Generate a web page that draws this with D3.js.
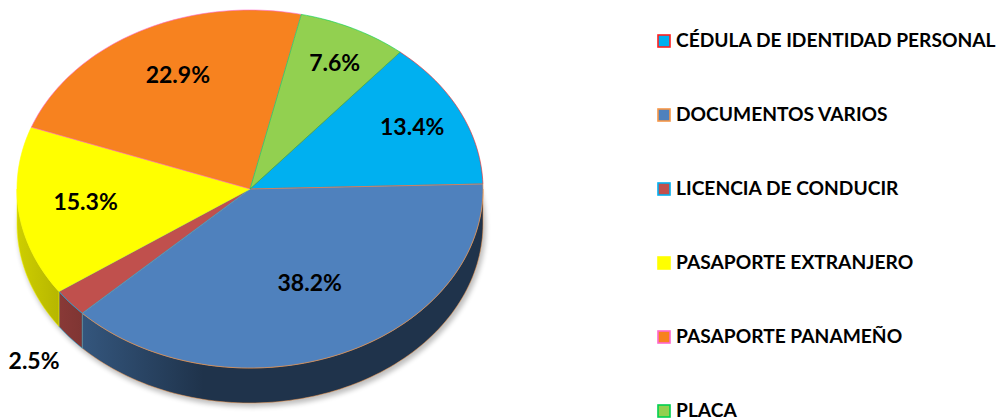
<!DOCTYPE html>
<html>
<head>
<meta charset="utf-8">
<script src="https://cdn.jsdelivr.net/npm/d3@7"></script>
<style>
  body { margin: 0; background: #fff; }
  text { font-family: Lato, "Open Sans", sans-serif; font-weight: bold; fill: #000; }
</style>
</head>
<body>
<div id="chart"></div>
<script>
// data (order as in the legend)
const categories = ['CÉDULA DE IDENTIDAD PERSONAL', 'DOCUMENTOS VARIOS', 'LICENCIA DE CONDUCIR',
  'PASAPORTE EXTRANJERO', 'PASAPORTE PANAMEÑO', 'PLACA'];
const values = [13.4, 38.2, 2.5, 15.3, 22.9, 7.6];
const sliceColours = ['#00b0f0', '#4f81bd', '#c0504d', '#ffff00', '#f7821f', '#92d050'];
const borderColours = ['#ff2020', '#f79646', '#00b0f0', '#ffff00', '#ff66cc', '#00d050'];

const width = 1007, height = 420;
const cx = 250, cy = 189, rx = 233, ry = 179, depth = 35;

const svg = d3.select('#chart').append('svg')
  .attr('width', width)
  .attr('height', height);

const defs = svg.append('defs');
const blur = defs.append('filter').attr('id', 'shadow')
  .attr('x', '-10%').attr('y', '-10%').attr('width', '120%').attr('height', '120%');
blur.append('feGaussianBlur').attr('stdDeviation', 2.5);

const data = categories.map((c, i) => ({ name: c, value: values[i], i }));

const pie = d3.pie().sort(null).value(d => d.value)
  .startAngle(0.70).endAngle(0.70 + 2 * Math.PI);
const arcs = pie(data);

// project a d3 angle (0 = 12 o'clock, clockwise) on to the ellipse
const px = (a, r = 1) => cx + rx * r * Math.sin(a);
const py = (a, r = 1) => cy - ry * r * Math.cos(a);

function rim(a0, a1, dy = 0) {
  const n = Math.max(2, Math.ceil(Math.abs(a1 - a0) * 40));
  return d3.range(n + 1).map(k => {
    const a = a0 + (a1 - a0) * k / n;
    return [px(a), py(a) + dy];
  });
}

const chart = svg.append('g');

// soft shadow under the pie
chart.append('ellipse')
  .attr('cx', cx + 2).attr('cy', cy + depth + 3)
  .attr('rx', rx + 1).attr('ry', ry + 1)
  .attr('fill', '#000').attr('opacity', 0.25)
  .attr('filter', 'url(#shadow)');

// outer walls, only the front half is visible
const front = [[Math.PI / 2, 1.5 * Math.PI], [2.5 * Math.PI, 3.5 * Math.PI]];
const walls = [];
arcs.forEach(d => {
  front.forEach(([f0, f1]) => {
    const a0 = Math.max(d.startAngle, f0), a1 = Math.min(d.endAngle, f1);
    if (a1 > a0) walls.push({ d, a0, a1 });
  });
});

walls.forEach((w, k) => {
  const base = d3.color(sliceColours[w.d.index]);
  const gid = 'wall' + k;
  const g = defs.append('linearGradient').attr('id', gid)
    .attr('gradientUnits', 'userSpaceOnUse')
    .attr('x1', cx - rx).attr('x2', cx + rx).attr('y1', 0).attr('y2', 0);
  [[0, 0.6], [14, 1.15], [40, 2.6], [100, 2.6]].forEach(([o, k2]) => {
    g.append('stop').attr('offset', o + '%').attr('stop-color', base.darker(k2));
  });
  const pts = rim(w.a0, w.a1).concat(rim(w.a1, w.a0, depth));
  chart.append('path')
    .attr('d', d3.line()(pts) + 'Z')
    .attr('fill', `url(#${gid})`)
    .attr('stroke', borderColours[w.d.index])
    .attr('stroke-width', 0.5);
});

// top face
chart.selectAll('.slice')
  .data(arcs)
  .join('path')
  .attr('class', 'slice')
  .attr('d', d => d3.line()([[cx, cy]].concat(rim(d.startAngle, d.endAngle))) + 'Z')
  .attr('fill', d => sliceColours[d.index])
  .attr('stroke', d => borderColours[d.index])
  .attr('stroke-width', 0.6);

// labels: near the centroid of each sector, small ones outside
function labelPos(d) {
  const t = d.endAngle - d.startAngle;
  const mid = (d.startAngle + d.endAngle) / 2;
  if (d.data.value < 5) return [px(mid, 1.2), py(mid, 1.2) + depth];
  const r = 1.15 * 2 * Math.sin(t / 2) / (3 * t / 2);
  return [px(mid, r) + 6, py(mid, r) - 4];
}

chart.selectAll('.label')
  .data(arcs)
  .join('text')
  .attr('class', 'label')
  .attr('x', d => labelPos(d)[0])
  .attr('y', d => labelPos(d)[1])
  .attr('dy', '0.35em')
  .attr('text-anchor', 'middle')
  .style('font-size', '23px')
  .text(d => d.data.value.toFixed(1) + '%');

// legend
const legendY = d3.scaleLinear().domain([0, categories.length - 1]).range([47, 417]);
const legend = svg.append('g')
  .selectAll('g')
  .data(data)
  .join('g')
  .attr('transform', d => `translate(657,${legendY(d.i)})`);

legend.append('rect')
  .attr('x', 1).attr('y', -12)
  .attr('width', 12).attr('height', 12)
  .attr('fill', d => sliceColours[d.i])
  .attr('stroke', d => borderColours[d.i])
  .attr('stroke-width', 1.6);

legend.append('text')
  .attr('x', 19)
  .attr('y', 0)
  .style('font-size', '19.2px')
  .text(d => d.name);
</script>
</body>
</html>
